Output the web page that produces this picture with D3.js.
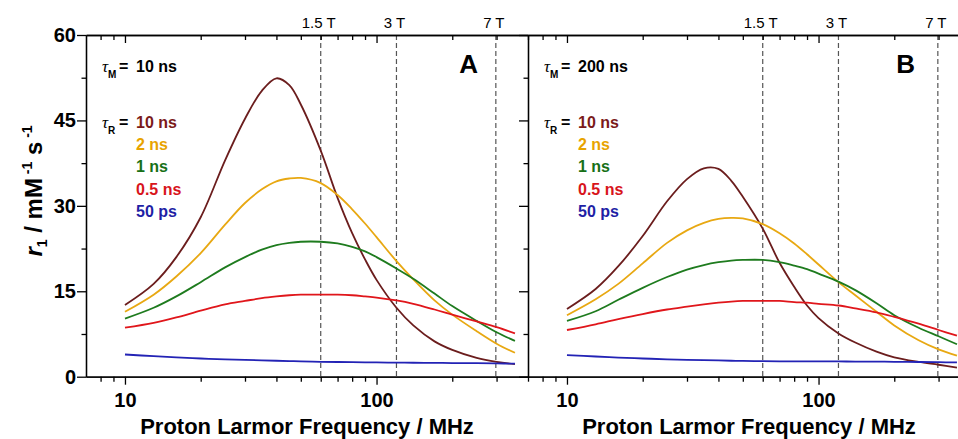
<!DOCTYPE html>
<html lang="en">

<head>
    <meta charset="UTF-8">
    <title>r1 NMRD profiles</title>
    <script src="https://d3js.org/d3.v7.min.js"></script>
    <style>
        body { margin: 0; background: #fff; }
        svg { display: block; }
        .tick text { font-family: "Liberation Sans", Arial, sans-serif; font-weight: bold; font-size: 20px; fill: #000; }
        .axis path, .axis line { stroke: #000; stroke-width: 1.3px; }
    </style>
</head>

<body>
    <div id="chart"></div>

    <script>
        // proton Larmor frequency grid (MHz), shared by every curve
        var freqMHz = [10, 13, 16, 20, 25, 30, 35, 40, 45, 50, 60, 70, 80, 90, 100, 120, 140, 170, 200, 250, 300, 355];

        // panel A, tauM = 10 ns
        var r1A_10ns = [12.6, 16.3, 21.0, 28.0, 38.0, 45.3, 50.2, 52.4, 51.2, 47.8, 39.7, 31.4, 25.2, 20.6, 17.0, 12.1, 9.0, 6.2, 4.7, 3.3, 2.6, 2.2];
        var r1A_2ns = [11.4, 14.4, 17.6, 21.7, 26.7, 30.5, 32.9, 34.3, 34.8, 34.9, 34.0, 31.9, 29.4, 26.9, 24.5, 20.3, 17.1, 13.4, 10.9, 8.0, 5.8, 4.2];
        var r1A_1ns = [10.2, 12.1, 14.1, 16.6, 19.2, 21.0, 22.3, 23.1, 23.5, 23.7, 23.7, 23.4, 22.8, 22.0, 21.0, 19.0, 17.2, 14.6, 12.4, 9.8, 7.8, 6.3];
        var r1A_05ns = [8.6, 9.45, 10.4, 11.6, 12.7, 13.3, 13.8, 14.1, 14.3, 14.4, 14.4, 14.4, 14.3, 14.1, 13.9, 13.4, 12.8, 11.8, 10.9, 9.7, 8.7, 7.6];
        var r1A_50ps = [3.9, 3.6, 3.4, 3.2, 3.05, 2.95, 2.87, 2.8, 2.75, 2.7, 2.62, 2.58, 2.55, 2.52, 2.5, 2.48, 2.45, 2.42, 2.4, 2.37, 2.33, 2.3];

        // panel B, tauM = 200 ns
        var r1B_10ns = [11.9, 15.4, 19.4, 24.7, 30.8, 34.7, 36.6, 36.5, 34.4, 31.6, 26.0, 20.0, 15.8, 12.5, 10.3, 7.6, 6.0, 4.4, 3.4, 2.6, 2.1, 1.6];
        var r1B_2ns = [10.8, 13.6, 16.3, 19.9, 23.5, 25.7, 27.0, 27.7, 27.9, 27.8, 26.8, 25.2, 23.4, 21.5, 19.7, 16.6, 14.3, 11.4, 9.0, 6.4, 4.8, 3.7];
        var r1B_1ns = [9.8, 11.5, 13.5, 15.6, 17.5, 18.8, 19.6, 20.1, 20.4, 20.5, 20.5, 20.1, 19.5, 18.9, 18.1, 16.7, 15.2, 12.9, 10.8, 8.6, 7.1, 5.7];
        var r1B_05ns = [8.2, 9.2, 10.1, 11.0, 11.8, 12.3, 12.7, 13.0, 13.2, 13.3, 13.3, 13.3, 13.1, 13.0, 12.8, 12.5, 12.0, 11.3, 10.5, 9.3, 8.2, 7.2];
        var r1B_50ps = [3.8, 3.55, 3.35, 3.2, 3.05, 2.97, 2.9, 2.85, 2.8, 2.77, 2.73, 2.7, 2.7, 2.7, 2.7, 2.68, 2.66, 2.64, 2.62, 2.58, 2.55, 2.5];

        var tauRLabels = ["10 ns", "2 ns", "1 ns", "0.5 ns", "50 ps"];
        var lineColors = ["#6b1d1d", "#e8a812", "#1e7b1e", "#e0161b", "#2323b5"];
        var labelColors = ["#7b1a1a", "#e8a300", "#177017", "#d8141b", "#1f1fa5"];

        var yTicks = [0, 15, 30, 45, 60];
        var yMinorTicks = [7.5, 22.5, 37.5, 52.5];
        var xTicks = [10, 100];
        var xMinorTicks = [8, 9, 20, 30, 40, 50, 60, 70, 80, 90, 200, 300, 400];

        // field strengths marked at the top
        var fieldMHz = [60, 120, 298];
        var fieldLabels = ["1.5 T", "3 T", "7 T"];

        var width = 958;
        var height = 439;
        var plotTop = 35, plotBottom = 376.7;

        var panels = [
            { x0: 86, x1: 528, letter: "A", letterX: 478, tauM: "10 ns", series: [r1A_10ns, r1A_2ns, r1A_1ns, r1A_05ns, r1A_50ps] },
            { x0: 528, x1: 970, letter: "B", letterX: 915, tauM: "200 ns", series: [r1B_10ns, r1B_2ns, r1B_1ns, r1B_05ns, r1B_50ps] }
        ];

        var svg = d3.select("#chart")
            .append("svg")
            .attr("width", width)
            .attr("height", height);

        var y = d3.scaleLinear().domain([0, 60]).range([plotBottom, plotTop]);

        panels.forEach(function (p) {
            var x = d3.scaleLog().domain([7, 400]).range([p.x0, p.x1]);
            var g = svg.append("g");

            // dashed field lines
            g.selectAll("line.field")
                .data(fieldMHz)
                .enter().append("line")
                .attr("x1", function (d) { return x(d); })
                .attr("x2", function (d) { return x(d); })
                .attr("y1", plotTop)
                .attr("y2", plotBottom)
                .attr("stroke", "#555")
                .attr("stroke-width", 1.2)
                .attr("stroke-dasharray", "5,3");

            g.selectAll("text.field")
                .data(fieldMHz)
                .enter().append("text")
                .attr("x", function (d) { return x(d) - 2; })
                .attr("y", 28)
                .attr("text-anchor", "middle")
                .style("font-family", "Liberation Sans, Arial, sans-serif")
                .style("font-size", "15px")
                .text(function (d, i) { return fieldLabels[i]; });

            // curves
            var line = d3.line()
                .x(function (d, i) { return x(freqMHz[i]); })
                .y(function (d) { return y(d); })
                .curve(d3.curveCatmullRom.alpha(0.5));

            g.selectAll("path.curve")
                .data(p.series)
                .enter().append("path")
                .attr("d", line)
                .attr("fill", "none")
                .attr("stroke", function (d, i) { return lineColors[i]; })
                .attr("stroke-width", 1.8);

            // axes
            g.append("g").attr("class", "axis")
                .attr("transform", "translate(0," + plotBottom + ")")
                .call(d3.axisBottom(x).tickValues(xTicks).tickFormat(d3.format("d")).tickSizeInner(8).tickSizeOuter(0).tickPadding(8));
            g.append("g").attr("class", "axis")
                .attr("transform", "translate(0," + plotBottom + ")")
                .call(d3.axisBottom(x).tickValues(xMinorTicks).tickFormat("").tickSizeInner(5).tickSizeOuter(0));

            g.append("g").attr("class", "axis")
                .attr("transform", "translate(0," + plotTop + ")")
                .call(d3.axisTop(x).tickValues(xTicks).tickFormat("").tickSizeInner(-8).tickSizeOuter(0));
            g.append("g").attr("class", "axis")
                .attr("transform", "translate(0," + plotTop + ")")
                .call(d3.axisTop(x).tickValues(xMinorTicks).tickFormat("").tickSizeInner(-5).tickSizeOuter(0));

            var yAxis = d3.axisLeft(y).tickValues(yTicks).tickSizeInner(9).tickSizeOuter(0).tickPadding(1);
            if (p.letter === "B") yAxis.tickFormat("");
            g.append("g").attr("class", "axis")
                .attr("transform", "translate(" + p.x0 + ",0)")
                .call(yAxis);
            g.append("g").attr("class", "axis")
                .attr("transform", "translate(" + p.x0 + ",0)")
                .call(d3.axisLeft(y).tickValues(yMinorTicks).tickFormat("").tickSizeInner(4.5).tickSizeOuter(0));

            // x axis title
            g.append("text")
                .attr("x", (p.x0 + p.x1) / 2)
                .attr("y", 434)
                .attr("text-anchor", "middle")
                .style("font-family", "Liberation Sans, Arial, sans-serif")
                .style("font-weight", "bold")
                .style("font-size", "22px")
                .text("Proton Larmor Frequency / MHz");

            // panel letter
            g.append("text")
                .attr("x", p.letterX)
                .attr("y", 72.5)
                .attr("text-anchor", "end")
                .style("font-family", "Liberation Sans, Arial, sans-serif")
                .style("font-weight", "bold")
                .style("font-size", "26px")
                .text(p.letter);

            // legend
            var lg = g.append("g")
                .style("font-family", "Liberation Sans, Arial, sans-serif")
                .style("font-weight", "bold")
                .style("font-size", "16px");

            function tau(yy, sub) {
                var t = lg.append("text").attr("x", p.x0 + 16).attr("y", yy);
                t.append("tspan")
                    .style("font-family", "Liberation Serif, serif")
                    .style("font-style", "italic")
                    .style("font-weight", "normal")
                    .style("font-size", "17px")
                    .text("\u03c4");
                t.append("tspan")
                    .attr("dy", 6)
                    .style("font-size", "10px")
                    .text(sub);
                lg.append("text").attr("x", p.x0 + 33).attr("y", yy).text("=");
            }

            tau(71.7, "M");
            lg.append("text").attr("x", p.x0 + 50).attr("y", 71.7).text(p.tauM);

            tau(128.3, "R");
            var legY = [128.3, 149.8, 172, 194.5, 217];
            lg.selectAll("text.tr")
                .data(tauRLabels)
                .enter().append("text")
                .attr("x", p.x0 + 50)
                .attr("y", function (d, i) { return legY[i]; })
                .attr("fill", function (d, i) { return labelColors[i]; })
                .text(function (d) { return d; });
        });

        // y axis title
        var yt = svg.append("text")
            .attr("transform", "translate(42,191) rotate(-90)")
            .attr("text-anchor", "middle")
            .style("font-family", "Liberation Sans, Arial, sans-serif")
            .style("font-weight", "bold")
            .style("font-size", "24px");
        yt.append("tspan").style("font-style", "italic").text("r");
        yt.append("tspan").attr("dy", 5).style("font-size", "14px").text("1");
        yt.append("tspan").attr("dy", -5).text(" / mM");
        yt.append("tspan").attr("dy", -10).style("font-size", "14px").text(" -1");
        yt.append("tspan").attr("dy", 10).text(" s");
        yt.append("tspan").attr("dy", -10).style("font-size", "14px").text(" -1");

    </script>

</body>

</html>
